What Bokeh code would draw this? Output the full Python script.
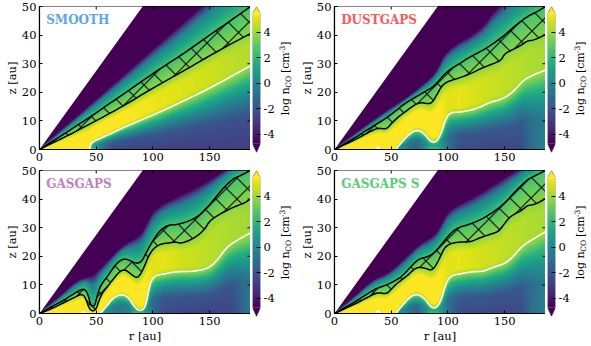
import numpy as np
from bokeh.core.properties import value
from math import pi
from bokeh.embed import file_html
from bokeh.resources import INLINE
from bokeh.plotting import figure
from bokeh.layouts import column, row
from bokeh.models import Label, LinearColorMapper, FixedTicker
from bokeh.palettes import Viridis256

# ---- data: (r [au], z [au]) along each curve ----
names = ["SMOOTH", "DUSTGAPS", "GASGAPS", "GASGAPS S"]
name_colors = ["#5aa7e0", "#f25c5c", "#c080c0", "#5ccb78"]

upper_r = [
 [0,10,20,30,40,50,60,75,100,125,150,170,186],
 [0,20,30,40,47,55,60,70,80,88,95,100,110,120,130,140,150,160,170,175,180,186],
 [0,10,20,30,36,40,43,45,47,49,52,55,60,65,70,75,80,85,90,95,100,105,110,115,120,130,140,145,150,160,170,175,180,186],
 [0,20,30,37,45,55,60,70,75,82,88,95,100,105,110,120,130,140,150,160,170,175,186],
]
upper_z = [
 [0,2.5,5,7.6,10.2,12.8,15.6,19.6,26.6,33,40,45.5,50],
 [0,4.6,7.2,9.6,11.4,13.8,15.5,18,20.3,22.2,25.5,27.5,30,32.5,34.5,37,40,43.5,46.5,47.5,48.5,50],
 [0,2.2,4.3,6.8,8.3,8.6,6.5,3,2.5,3,8,10.5,13,16,18.3,19.2,18.5,17.5,18,22,25.5,28.5,30.2,31,31,32,34,36,38,43,47,47.8,48.8,50],
 [0,4.5,7.2,8.8,9.8,11.8,13.2,17.5,19.2,19.8,21.2,24.5,27,29,30.2,31.3,33,35.5,38.5,43,46.8,47.8,50],
]
lower_r = [
 [0,10,20,30,40,50,60,75,100,125,150,170,186],
 [0,20,30,38,42,46,50,55,60,70,76,82,86,90,95,100,110,120,130,140,147,150,155,165,170,175,180,186],
 [0,10,20,30,38,41,44,47,50,52,55,60,65,70,75,80,85,88,92,96,100,105,110,120,125,135,145,150,160,170,175,180,186],
 [0,20,30,38,46,50,55,60,65,70,75,80,86,90,94,97,102,110,120,128,140,145,150,155,165,170,175,180,186],
]
lower_z = [
 [0,2,3.9,5.9,8,10.1,12.2,15.5,21.5,27,32.8,37.2,40.5],
 [0,3.8,6,7.5,7.3,7.2,9,11,12.5,15.5,16.5,16,16.3,19,22.5,23.8,25,26.5,28.5,30,31.2,33.5,34.5,36.5,38,38.2,39,40.2],
 [0,1.5,3.5,5.5,7,5,1.5,0.8,1.5,4,7,9.5,12,14.5,15.5,14,12.5,13,16,20,22.5,24,24.5,25,24.5,26,29,32.5,35,37,37.8,38.5,40],
 [0,3.7,5.8,7.4,6.8,8.5,10.5,12,13.5,15.5,16.3,15.8,15,17.2,20.5,23,24.5,25,25,26.5,28,28.8,31.5,34,36,37.8,38,38.8,40.2],
]
white_r = [
 [44.3,44.8,46,48,50,60,75,100,125,150,170,186],
 [54,60,67.6,73.5,79.4,85,89.7,94,98.5,103,110,125,136.8,148.5,157,166,172,186],
 [53.5,59.4,65,72.6,78.5,83,87.4,92,94.7,97.6,102,109.4,121,136,149,156.5,165,174,186],
 [54,60,67.6,73.5,79.4,85,89.7,94,98.5,103,110,122,131,140,150,157,166,175,186],
]
white_z = [
 [0,1.3,2.3,2.9,3.3,5,7.9,12,16.6,21.4,25.8,29.3],
 [0,3,6,6.9,5.5,2.6,2.6,5.5,11.3,13,13,14.2,16.5,17.7,20,24,25.5,27.8],
 [0,2.7,5.6,6.8,5.6,2.7,0.9,1.3,4.5,11,13.3,13.8,14.7,14.7,15.8,18.5,23.2,25.6,28.2],
 [0,3,6.2,6.8,5.3,2.1,1.9,4.5,11,13.3,13.8,14.7,14.7,16.2,17.4,19.7,23.8,26,28.6],
]
loop_r = [[], [37,38.2,39.7], [36.8,38.8,41.2], [36.5,38,39,41]]
loop_z = [[], [0,1.2,0], [0,0.8,0], [0,1,1,0]]

dark_r = [
 [0,186],
 [0,40,60,75,90,98,130,142,186],
 [0,18,33,45,53,65,74,89,95,101,124,147,186],
 [0,18,33,45,53,65,74,89,95,101,124,147,186],
]
dark_z = [
 [0,65.5],
 [0,12,17,21.5,27,35,42,50,62],
 [0,6,11.7,13,15.5,20.5,24,27.5,32,36.8,41.5,46,56],
 [0,6,11.7,13.5,16,20.5,24,27.5,32,36.5,41,47,56],
]
# log n on the midplane, beyond the start of the white contour
mid_r = [
 [44,50,56,65,90,186],
 [54,60,66,72,78,84,90,95,100,110,150,165,172,186],
 [54,60,66,72,78,84,90,95,100,110,150,170,178,186],
 [54,60,66,72,78,84,90,95,100,110,150,165,172,186],
]
mid_v = [
 [3.5,1.5,-1,-2.5,-2.7,-2.9],
 [2.5,0.5,-0.8,-1.5,0,2.5,2.5,1,-0.8,-2.4,-2.6,-2.4,-1.2,0],
 [2.5,0.5,-0.2,-0.5,0,2.5,2.5,1,-1.2,-2.5,-2.7,-2.6,-1.5,-0.5],
 [2.5,0.5,-0.8,-1.5,0,2.5,2.5,1,-0.8,-2.4,-2.6,-2.4,-1.2,0],
]
# log n in the plateau between the white contour and the molecular layer
peak_r = [[60,100,150,186], [90,100,110,125,150,186], [90,100,110,125,150,186], [90,100,110,125,150,186]]
peak_v = [[5.6,5.2,4.7,4.25], [5.6,5.0,5.1,4.85,4.5,4.1], [5.6,5.0,5.1,4.75,4.4,4.0], [5.6,5.0,5.1,4.85,4.5,4.1]]

wedge_slope = 0.55
R_MAX, Z_MAX = 186.0, 50.0
V_MIN, V_MAX = -4.73, 5.47
x_ticks = [0, 50, 100, 150]
y_ticks = [0, 10, 20, 30, 40, 50]
cb_ticks = [-4, -2, 0, 2, 4]
hatch_period = 21.0
hatch_back = [17.0, 17.0, 17.0, 17.0]
hatch_fwd = [18.0, 15.0, 15.0, 13.0]

FW, FH = 211, 143
PX_R, PX_Z = FW / R_MAX, FH / Z_MAX
FONT = "DejaVu Serif"
mapper = LinearColorMapper(palette=Viridis256, low=V_MIN, high=V_MAX, nan_color=(0, 0, 0, 0))


def rounded(xs, ys, n=2):
    """Corner cutting of a polyline through read points, ends kept."""
    x, y = np.asarray(xs, float), np.asarray(ys, float)
    for _ in range(n):
        qx, qy = 0.75 * x[:-1] + 0.25 * x[1:], 0.75 * y[:-1] + 0.25 * y[1:]
        rx, ry = 0.25 * x[:-1] + 0.75 * x[1:], 0.25 * y[:-1] + 0.75 * y[1:]
        x = np.r_[x[0], np.c_[qx, rx].ravel(), x[-1]]
        y = np.r_[y[0], np.c_[qy, ry].ravel(), y[-1]]
    return x, y


def smooth(a, n):
    w = np.hanning(2 * n + 3)[1:-1]
    w = w / w.sum()
    p = np.pad(a, ((n, n), (n, n)), mode="edge")
    p = np.apply_along_axis(lambda m: np.convolve(m, w, mode="valid"), 0, p)
    p = np.apply_along_axis(lambda m: np.convolve(m, w, mode="valid"), 1, p)
    return p


def field(i, cu, cl, cw):
    rs = np.linspace(0, R_MAX, 2 * FW)
    zs = np.linspace(0, Z_MAX, 2 * FH)
    img = np.zeros((zs.size, rs.size))
    cd = rounded(dark_r[i], dark_z[i])
    for j, r in enumerate(rs):
        zu = np.interp(r, *cu)
        zl = np.interp(r, *cl)
        zw = np.interp(r, *cw, left=0.0)
        zd = max(np.interp(r, *cd), zu + 0.4)
        pk = np.interp(r, peak_r[i], peak_v[i])
        md = np.interp(r, mid_r[i], mid_v[i])
        span = max(zl - zw, 0.1)
        p1 = zw + 0.12 * span + 0.01
        p2 = max(zw + 0.7 * span, p1 + 0.01)
        zl2 = max(zl, p2 + 0.01)
        zu2 = max(zu, zl2 + 0.01)
        zt = zu2 + 0.65 * (zd - zu2) + 0.01
        zd2 = max(zd, zt + 0.01)
        if zw > 0:
            u = np.array([0, 0.4, 0.6, 0.8, 1.0])
            f = np.array([-3, -2.2, -0.5, 1.5, 4.1]) + (md + 3) * (1 - u)
            ax = list(u * zw)
            av = list(f)
        else:
            ax, av = [], []
        ax += [p1, p2, zl2, zu2, zt, zd2]
        av += [pk, pk, 3.7, 2.5, -0.2, -5.0]
        if zw <= 0:
            ax = [0.0] + ax
            av = [pk] + av
        img[:, j] = np.interp(zs, ax, av)
    return smooth(img, 2)


def hatch_lines(i, cu, cl, x0, y_top):
    """45 degree screen lines clipped to the band between the two curves."""
    xs, ys = [], []
    sx = np.arange(0, FW + 0.25, 0.25)
    r = sx / PX_R
    zu = np.interp(r, *cu)
    zl = np.interp(r, *cl)
    y_bot = y_top + FH
    for sign, ph in ((-1, hatch_back[i]), (1, hatch_fwd[i])):
        for k in range(-60, 60):
            c = ph + k * hatch_period
            # page pixels X = x0 + sx, Y = y_bot - sy; X - Y = c or X + Y = c
            if sign == -1:
                sy = c - (x0 + sx) + y_bot
            else:
                sy = (x0 + sx) + y_bot - c
            z = sy / PX_Z
            ok = (z <= zu) & (z >= zl) & (z >= 0) & (z <= Z_MAX)
            if not ok.any():
                continue
            idx = np.flatnonzero(ok)
            for run in np.split(idx, np.flatnonzero(np.diff(idx) > 1) + 1):
                xs.append(r[run].tolist())
                ys.append(z[run].tolist())
    return xs, ys


def panel(i, x0, y_top, left, bottom, with_xlabel):
    p = figure(frame_width=FW, frame_height=FH, min_border_left=left, min_border_right=0,
               min_border_top=6, min_border_bottom=bottom,
               x_range=(0, R_MAX), y_range=(0, Z_MAX), output_backend="svg", toolbar_location=None,
               x_axis_location="below", y_axis_location="left", background_fill_color="white",
               border_fill_color=None)
    p.grid.visible = False
    p.outline_line_color = "black"
    p.outline_line_width = 1.2
    cu = rounded(upper_r[i], upper_z[i])
    cl = rounded(lower_r[i], lower_z[i])
    cw = rounded(white_r[i], white_z[i])
    p.image(image=[field(i, cu, cl, cw)], x=0, y=0, dw=R_MAX, dh=Z_MAX, color_mapper=mapper)
    # region above the wedge stays white
    wx = [0.0, R_MAX]
    p.varea(x=wx, y1=[wedge_slope * v for v in wx], y2=[Z_MAX * 1.5, Z_MAX * 1.5], fill_color="white")
    # hatch and its edges
    hx, hy = hatch_lines(i, cu, cl, x0, y_top)
    p.multi_line(hx, hy, line_color="#111111", line_width=1.2, line_alpha=0.85)
    p.line(cu[0], cu[1], line_color="black", line_width=1.5, line_join="round")
    p.line(cl[0], cl[1], line_color="black", line_width=1.5, line_join="round")
    p.line(cw[0], cw[1], line_color="white", line_width=1.6, line_join="round")
    if loop_r[i]:
        p.line(*rounded(loop_r[i], loop_z[i]), line_color="white", line_width=1.3)

    for ax, t in ((p.xaxis[0], x_ticks), (p.yaxis[0], y_ticks)):
        ax.ticker = FixedTicker(ticks=t)
        ax.major_tick_in = 3
        ax.major_tick_out = 0
        ax.minor_tick_line_color = None
        ax.major_label_standoff = 3
        ax.axis_line_width = 1.2
        ax.major_tick_line_width = 1
        ax.major_label_text_font = FONT
        ax.major_label_text_font_size = "11.5px"
        ax.major_label_text_color = "black"
        ax.axis_label_text_font = FONT
        ax.axis_label_text_font_size = "11.5px"
        ax.axis_label_text_font_style = "normal"
        ax.axis_label_text_color = "black"
    p.yaxis[0].axis_label = "z [au]"
    p.yaxis[0].axis_label_standoff = 0
    if with_xlabel:
        p.xaxis[0].axis_label = "r [au]"
        p.xaxis[0].axis_label_standoff = 1
    # inward ticks on the top and right edges
    tx = [float(v) for v in x_ticks]
    ty = [float(v) for v in y_ticks]
    p.segment(tx, [Z_MAX] * len(tx), tx, [Z_MAX - 3 / PX_Z] * len(tx), line_color="black", line_width=1)
    p.segment([R_MAX] * len(ty), ty, [R_MAX - 3 / PX_R] * len(ty), ty, line_color="black", line_width=1)
    p.add_layout(Label(x=5.9, y=45.3, text=names[i], text_color=name_colors[i], text_font=FONT,
                       text_font_style="bold", text_font_size="12px", text_baseline="middle"))
    return p


def bar(bottom):
    px = 12.78
    top_v = V_MAX + 7 / px
    bot_v = V_MIN - 8.8 / px
    c = figure(frame_width=8, frame_height=146, min_border_left=2, min_border_right=16,
               min_border_top=5, min_border_bottom=bottom,
               x_range=(0, 1), y_range=(bot_v, top_v), output_backend="svg", toolbar_location=None,
               x_axis_location=None, y_axis_location="right", border_fill_color=None)
    c.grid.visible = False
    c.outline_line_color = None
    c.background_fill_color = None
    vals = np.linspace(V_MIN, V_MAX, 256)[:, None]
    c.image(image=[vals], x=0, y=V_MIN, dw=1, dh=V_MAX - V_MIN, color_mapper=mapper)
    c.patch([0, 0.5, 1], [V_MAX, top_v, V_MAX], fill_color=Viridis256[-1], line_color=None)
    c.patch([0, 0.5, 1], [V_MIN, bot_v, V_MIN], fill_color=Viridis256[0], line_color=None)
    c.line([0, 0, 0.5, 1, 1, 0.5, 0], [V_MIN, V_MAX, top_v, V_MAX, V_MIN, bot_v, V_MIN],
           line_color="#333333", line_width=0.6, line_alpha=0.7)
    ax = c.yaxis[0]
    ax.ticker = FixedTicker(ticks=cb_ticks)
    ax.major_label_overrides = {t: str(t) for t in cb_ticks}
    ax.axis_line_color = None
    ax.major_tick_in = 4
    ax.major_tick_out = 0
    ax.minor_tick_line_color = None
    ax.major_label_standoff = 3
    ax.major_label_text_font = FONT
    ax.major_label_text_font_size = "11.5px"
    ax.major_label_text_color = "black"
    return c


def bar_label(width, bottom, xc):
    """The colourbar title, in pieces: sub and superscripts are smaller and shifted."""
    f = figure(width=width, height=5 + 146 + bottom, min_border_left=0, min_border_right=0,
               min_border_top=5, min_border_bottom=bottom,
               x_range=(0, width), y_range=(151, 5), output_backend="svg", toolbar_location=None,
               x_axis_location=None, y_axis_location=None, border_fill_color=None)
    f.grid.visible = False
    f.outline_line_color = None
    f.background_fill_color = None
    pieces = [("log n", 116.0, "11px", 0.0), ("CO", 88.0, "7.5px", 2.5), ("[cm", 73.0, "11px", 0.0),
              ("-3", 52.5, "7.5px", -3.5), ("]", 45.0, "11px", 0.0)]
    for text, py, size, dx in pieces:
        f.text([xc + dx], [py], text=[text], angle=pi / 2, text_font=value(FONT), text_font_size=size,
               text_align="left", text_baseline="middle", text_color="black")
    return f


B1, B2 = 15, 33
p1 = panel(0, 39, 6, 39, B1, False)
p2 = panel(1, 333, 6, 38, B1, False)
p3 = panel(2, 39, 170, 39, B2, True)
p4 = panel(3, 333, 170, 38, B2, True)
row1 = row(p1, bar(B1 - 2), bar_label(19, B1 - 2, 8), p2, bar(B1 - 2), bar_label(21, B1 - 2, 8), spacing=0)
row2 = row(p3, bar(B2 - 2), bar_label(19, B2 - 2, 8), p4, bar(B2 - 2), bar_label(21, B2 - 2, 8), spacing=0)
root = column(row1, row2, spacing=0)
open("out.html", "w").write(file_html(root, INLINE))
